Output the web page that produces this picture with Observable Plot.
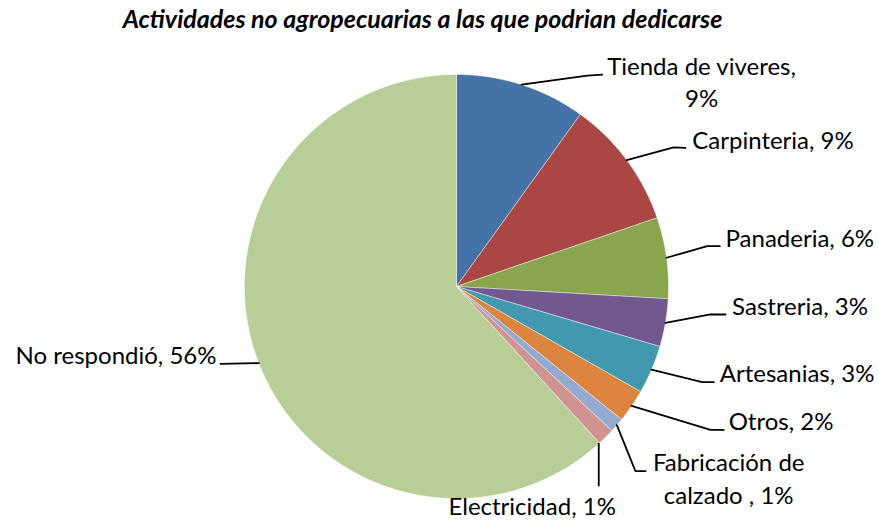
<!DOCTYPE html>
<html><head><meta charset="utf-8">
<script src="https://cdn.jsdelivr.net/npm/d3@7"></script>
<script src="https://cdn.jsdelivr.net/npm/@observablehq/plot@0.6"></script>
<style>body{margin:0;background:#fff;}</style>
</head><body><div id="chart"></div>
<script>
// ---- data ----
const title = "Actividades no agropecuarias a las que podrian dedicarse";
const categories = ["Tienda de viveres", "Carpinteria", "Panaderia", "Sastreria", "Artesanias", "Otros", "Fabricación de calzado ", "Electricidad", "No respondió"];
const values = [9.0, 8.9, 5.6, 3.3, 3.35, 2.3, 1.0, 1.2, 56.0];
const colors = ["#4572A7", "#AA4643", "#89A54E", "#71588F", "#4198AF", "#DB843D", "#93A9CF", "#D19392", "#B9CD96"];

// ---- label layout (unit-circle coordinates, radius = 1) ----
const labelBreak = ["viveres, ", null, null, null, null, null, "de ", null, null];
const labelAnchor = ["middle", "start", "start", "start", "start", "start", "middle", "middle", "end"];
const labelX = [1.156, 1.112, 1.269, 1.300, 1.242, 1.284, 1.284, 0.357, -1.132];
const labelY = [-0.999, -0.650, -0.185, 0.133, 0.451, 0.676, 0.871, 1.080, 0.365];
const elbowX = [0.617, 1.024, 1.183, 1.198, 1.159, 1.198, 0.844, 0.671, null];
const elbowY = [-0.995, -0.656, -0.190, 0.132, 0.451, 0.676, 0.871, 0.939, null];
const endX = [0.687, 1.080, 1.242, 1.269, 1.214, 1.261, 0.892, null, -1.113];
const endY = [-0.999, -0.654, -0.190, 0.132, 0.451, 0.676, 0.871, null, 0.365];
const leaderFromVertical = [false, false, false, false, false, false, false, true, false];

// ---- geometry ----
const cx = 456, cy = 286, R = 212;
const fs = 24, lh = 1.354, font = "Lato";
const total = d3.sum(values);
let acc = 0;
const slicePts = [], leaderPts = [], labelData = [];
categories.forEach((c, i) => {
  const a0 = acc / total * 2 * Math.PI; acc += values[i];
  const a1 = acc / total * 2 * Math.PI;
  slicePts.push({cat: c, x: 0, y: 0});
  const n = Math.max(2, Math.ceil((a1 - a0) / (Math.PI / 720)));
  for (let k = 0; k <= n; ++k) {
    const a = a0 + (a1 - a0) * k / n;
    slicePts.push({cat: c, x: Math.sin(a), y: -Math.cos(a)});
  }
  slicePts.push({cat: c, x: 0, y: 0});
  const am = (a0 + a1) / 2;
  let start = leaderFromVertical[i]
    ? {x: elbowX[i], y: Math.sqrt(1 - elbowX[i] ** 2)}
    : {x: Math.sin(am), y: -Math.cos(am)};
  leaderPts.push({cat: c, ...start});
  if (elbowX[i] != null) leaderPts.push({cat: c, x: elbowX[i], y: elbowY[i]});
  if (endX[i] != null) leaderPts.push({cat: c, x: endX[i], y: endY[i]});
  let t = `${c}, ${d3.format(".0f")(values[i])}%`;
  if (labelBreak[i]) t = t.replace(labelBreak[i], labelBreak[i].trimEnd() + "\n");
  labelData.push({text: t, x: labelX[i], y: labelY[i], anchor: labelAnchor[i]});
});

const textOpts = (anchor) => ({
  x: "x", y: "y", text: "text", textAnchor: anchor, lineAnchor: "top",
  lineHeight: lh, dy: -0.71 * lh * fs, fontSize: fs, fontFamily: font, fill: "#000"
});

const chart = Plot.plot({
  width: 879, height: 523,
  marginTop: 0, marginRight: 0, marginBottom: 0, marginLeft: 0,
  x: {domain: [-1, 1], range: [cx - R, cx + R], axis: null},
  y: {domain: [-1, 1], range: [cy - R, cy + R], axis: null},
  color: {domain: categories, range: colors},
  style: {background: "#fff", overflow: "visible"},
  marks: [
    Plot.line(slicePts, {x: "x", y: "y", z: "cat", fill: "cat", stroke: "#fff", strokeWidth: 0.6, strokeOpacity: 0.7}),
    Plot.line(leaderPts, {x: "x", y: "y", z: "cat", stroke: "#000", strokeWidth: 1.8}),
    Plot.text(labelData.filter(d => d.anchor === "start"), textOpts("start")),
    Plot.text(labelData.filter(d => d.anchor === "middle"), textOpts("middle")),
    Plot.text(labelData.filter(d => d.anchor === "end"), textOpts("end")),
    Plot.text([title], {
      frameAnchor: "top", text: d => d, textAnchor: "middle", lineAnchor: "top",
      dx: 422 - 439.5, dy: 27 - 0.71 * 25, fontSize: 25, fontFamily: font,
      fontWeight: "bold", fontStyle: "italic", fill: "#000"
    })
  ]
});
document.getElementById("chart").append(chart);
</script></body></html>
